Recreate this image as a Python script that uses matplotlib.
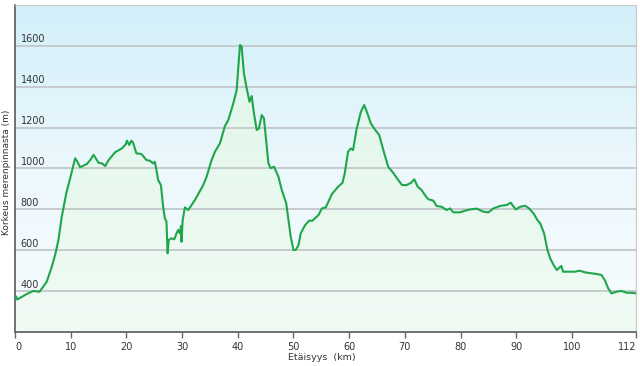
"""Elevation profile (korkeusprofiili) chart."""
import matplotlib
matplotlib.use("Agg")
import matplotlib.pyplot as plt
import numpy as np
from matplotlib.colors import LinearSegmentedColormap
from matplotlib.transforms import blended_transform_factory

# distance along route (km) and elevation (m)
dist_km = [0.0, 0.2, 0.4, 2.1, 3.3, 4.4, 5.7, 6.6, 7.2, 7.8, 8.4, 9.2, 9.9,
           10.8, 11.1, 11.7, 12.9, 13.5, 14.1, 15.0, 15.6, 16.2, 16.8, 18.0,
           19.2, 19.9, 20.1, 20.5, 20.9, 21.2, 21.8, 22.7, 23.6, 24.2, 24.8,
           25.1, 25.4, 25.7, 26.2, 26.6, 26.9, 27.2, 27.4, 27.6, 28.1, 28.6,
           29.0, 29.3, 29.6, 29.8, 29.9, 30.1, 30.5, 31.1, 32.3, 33.8, 34.4,
           35.3, 35.9, 36.8, 37.7, 38.3, 39.2, 39.8, 40.1, 40.4, 40.7, 41.1,
           41.6, 42.1, 42.5, 42.9, 43.4, 43.8, 44.3, 44.7, 45.5, 45.9, 46.5,
           47.3, 47.9, 48.7, 49.1, 49.5, 50.0, 50.4, 50.9, 51.3, 52.1, 52.8,
           53.4, 54.5, 55.1, 55.8, 56.9, 58.0, 58.8, 59.2, 59.8, 60.3, 60.7,
           61.3, 62.1, 62.7, 63.1, 63.9, 64.6, 65.4, 66.3, 67.0, 67.9, 68.8,
           69.5, 70.3, 71.1, 71.7, 72.3, 73.0, 73.6, 74.2, 75.1, 75.7, 76.6,
           77.5, 78.1, 78.7, 79.9, 80.8, 81.7, 82.9, 84.1, 85.0, 85.9, 87.1,
           88.3, 89.0, 89.9, 90.7, 91.6, 92.3, 93.1, 93.8, 94.3, 95.0, 95.6,
           96.1, 96.7, 97.3, 97.8, 98.1, 98.4, 99.3, 100.5, 101.4, 102.3,
           103.5, 104.4, 105.3, 105.9, 106.5, 107.1, 108.0, 108.9, 109.8,
           110.7, 111.5]
elev_m = [369, 375, 360, 387, 402, 398, 447, 520, 577, 651, 765, 879, 952,
          1050, 1038, 1006, 1022, 1041, 1067, 1028, 1025, 1012, 1041, 1080,
          1098, 1119, 1136, 1115, 1136, 1126, 1074, 1071, 1041, 1038, 1025,
          1033, 992, 944, 919, 813, 757, 740, 586, 651, 659, 654,
          683, 700, 683, 719, 642, 748, 810, 797, 846, 919, 960,
          1041, 1082, 1123, 1208, 1237, 1318, 1383, 1497, 1603, 1595, 1465,
          1391, 1326, 1354, 1269, 1188, 1196, 1261, 1245, 1025, 1001, 1009,
          960, 895, 830, 748, 667, 602, 602, 626, 683, 724, 745,
          745, 773, 805, 810, 875, 911, 930, 976, 1082, 1098, 1090,
          1188, 1277, 1310, 1282, 1220, 1191, 1163, 1074, 1009, 979, 944,
          919, 919, 930, 947, 911, 895, 870, 850, 843, 817, 813,
          797, 805, 786, 786, 794, 800, 804, 789, 786, 805, 817,
          822, 833, 800, 813, 818, 805, 781, 748, 732, 683, 602,
          561, 529, 504, 517, 524, 496, 496, 496, 501, 493,
          488, 485, 480, 455, 415, 390, 398, 402, 393,
          393, 390]

x_ticks = [0, 10, 20, 30, 40, 50, 60, 70, 80, 90, 100, 111.5]
x_tick_labels = ["0", "10", "20", "30", "40", "50", "60", "70", "80", "90", "100", "112"]
y_grid = [400, 600, 800, 1000, 1200, 1400, 1600]

fig = plt.figure(figsize=(6.4, 3.66), dpi=100)
ax = fig.add_axes([15 / 640, 1 - 332.3 / 366, 621 / 640, 327.6 / 366])
ax.set_xlim(0, 111.5)
ax.set_ylim(200, 1800)

# sky background gradient
sky = LinearSegmentedColormap.from_list("sky", ["#f8fcfe", "#ecf8fd", "#d2eff9"])
grad = np.linspace(0, 1, 256).reshape(-1, 1)
ax.imshow(grad, aspect="auto", cmap=sky, origin="lower",
          extent=[0, 1, 0, 1], transform=ax.transAxes, zorder=0)

# green fill under profile, gradient clipped to the area
poly = ax.fill_between(dist_km, elev_m, 200, facecolor="none", edgecolor="none")
greens = LinearSegmentedColormap.from_list("gr", ["#f0fbf4", "#e0f6ea"])
img = ax.imshow(grad, aspect="auto", cmap=greens, origin="lower",
                extent=[0, 111.5, 200, 1650], zorder=1)
img.set_clip_path(poly.get_paths()[0], transform=ax.transData)

for g in y_grid:
    ax.axhline(g, color="#c3c7cb", lw=1.3, zorder=2)

ax.plot(dist_km, elev_m, color="#1fa64a", lw=1.5, zorder=3)

# y labels inside plot, just above grid lines
trans = blended_transform_factory(ax.transAxes, ax.transData)
for g in y_grid:
    ax.text(0.009, g + 6, str(g), transform=trans, ha="left", va="bottom",
            fontsize=7, color="#333333", zorder=4)
ax.set_yticks([])

ax.set_xticks(x_ticks)
ax.set_xticklabels(x_tick_labels, fontsize=7, color="#333333")
ax.tick_params(axis="x", length=4, width=1, color="#666666", pad=3)
labels = ax.get_xticklabels()
labels[0].set_ha("left")
labels[-1].set_ha("right")

for side in ("top", "right"):
    ax.spines[side].set_color("#c8c8c8")
for side in ("left", "bottom"):
    ax.spines[side].set_color("#666666")
    ax.spines[side].set_linewidth(1.3)

fig.text(6.5 / 640, 1 - 172 / 366, "Korkeus merenpinnasta (m)", rotation=90,
         ha="center", va="center", fontsize=6.5, color="#333333")
fig.text(322 / 640, 1 - 357 / 366, "Etäisyys  (km)", ha="center", va="center",
         fontsize=6.8, color="#333333")

fig.savefig("out.png", dpi=100)
